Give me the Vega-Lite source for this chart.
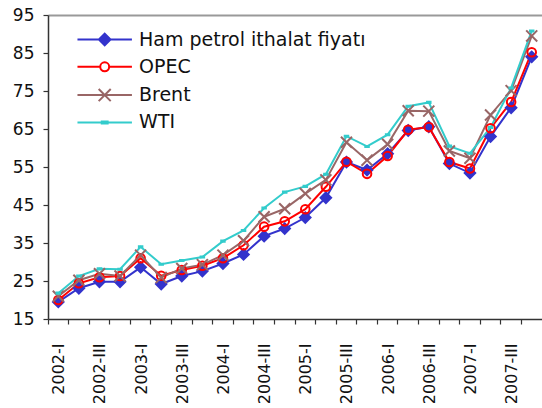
{
  "$schema": "https://vega.github.io/schema/vega-lite/v6.json",
  "width": 494,
  "height": 304,
  "autosize": {"type": "none"},
  "padding": {"left": 48, "top": 15, "right": 0, "bottom": 89},
  "background": "white",
  "config": {
    "view": {"stroke": null},
    "font": "DejaVu Sans",
    "axis": {"title": null, "domainColor": "#333333", "tickColor": "#333333", "domainWidth": 1.5, "tickWidth": 1.2, "labelColor": "#111111", "labelFont": "DejaVu Sans"},
    "legend": {"labelFont": "DejaVu Sans"}
  },
  "data": {
    "values": [
      {"q": "2002-I", "Ham": 19.5, "OPEC": 20.0, "Brent": 21.0, "WTI": 21.8},
      {"q": "2002-II", "Ham": 23.1, "OPEC": 24.4, "Brent": 25.2, "WTI": 26.3},
      {"q": "2002-III", "Ham": 24.8, "OPEC": 26.0, "Brent": 26.9, "WTI": 28.2},
      {"q": "2002-IV", "Ham": 24.8, "OPEC": 26.3, "Brent": 26.3, "WTI": 28.1},
      {"q": "2003-I", "Ham": 28.6, "OPEC": 31.0, "Brent": 31.8, "WTI": 34.0},
      {"q": "2003-II", "Ham": 24.2, "OPEC": 26.4, "Brent": 25.9, "WTI": 29.4},
      {"q": "2003-III", "Ham": 26.3, "OPEC": 27.9, "Brent": 28.3, "WTI": 30.4},
      {"q": "2003-IV", "Ham": 27.6, "OPEC": 29.0, "Brent": 29.3, "WTI": 31.3},
      {"q": "2004-I", "Ham": 29.6, "OPEC": 31.0, "Brent": 31.8, "WTI": 35.5},
      {"q": "2004-II", "Ham": 32.0, "OPEC": 34.4, "Brent": 35.6, "WTI": 38.3},
      {"q": "2004-III", "Ham": 36.8, "OPEC": 39.3, "Brent": 41.9, "WTI": 44.2},
      {"q": "2004-IV", "Ham": 38.8, "OPEC": 40.7, "Brent": 44.0, "WTI": 48.4},
      {"q": "2005-I", "Ham": 41.7, "OPEC": 43.9, "Brent": 48.0, "WTI": 49.9},
      {"q": "2005-II", "Ham": 46.9, "OPEC": 49.8, "Brent": 51.6, "WTI": 53.1},
      {"q": "2005-III", "Ham": 56.3, "OPEC": 56.4, "Brent": 61.5, "WTI": 63.1},
      {"q": "2005-IV", "Ham": 54.2, "OPEC": 53.2, "Brent": 56.8, "WTI": 60.4},
      {"q": "2006-I", "Ham": 58.5, "OPEC": 57.9, "Brent": 61.0, "WTI": 63.5},
      {"q": "2006-II", "Ham": 64.6, "OPEC": 64.8, "Brent": 69.8, "WTI": 71.0},
      {"q": "2006-III", "Ham": 65.6, "OPEC": 65.5, "Brent": 69.7, "WTI": 72.0},
      {"q": "2006-IV", "Ham": 55.9, "OPEC": 56.3, "Brent": 59.2, "WTI": 60.5},
      {"q": "2007-I", "Ham": 53.4, "OPEC": 54.6, "Brent": 57.3, "WTI": 58.6},
      {"q": "2007-II", "Ham": 63.0, "OPEC": 65.2, "Brent": 68.7, "WTI": 65.4},
      {"q": "2007-III", "Ham": 70.6, "OPEC": 72.1, "Brent": 75.1, "WTI": 75.8},
      {"q": "2007-IV", "Ham": 84.0, "OPEC": 85.2, "Brent": 89.5, "WTI": 90.8}
    ]
  },
  "transform": [
    {"fold": ["Ham", "OPEC", "Brent", "WTI"], "as": ["series", "v"]}
  ],
  "encoding": {
    "x": {
      "field": "q", "type": "ordinal", "sort": null,
      "scale": {"type": "band", "paddingInner": 0, "paddingOuter": 0},
      "axis": {
        "grid": false, "bandPosition": 0, "tickSize": 5, "labelAngle": -90, "labelFontSize": 16,
        "labelPadding": 19, "labelOffset": 1, "labelOverlap": false,
        "labelExpr": "indexof(['2002-I','2002-III','2003-I','2003-III','2004-I','2004-III','2005-I','2005-III','2006-I','2006-III','2007-I','2007-III'], datum.value) >= 0 ? datum.label : ''"
      }
    },
    "y": {
      "field": "v", "type": "quantitative",
      "scale": {"domain": [15, 95], "nice": false, "zero": false},
      "axis": {
        "values": [15, 25, 35, 45, 55, 65, 75, 85, 95], "tickSize": 5, "labelFontSize": 17, "labelPadding": 9,
        "grid": true, "gridColor": "#999999", "gridWidth": 2,
        "gridOpacity": {"condition": {"test": "datum.value === 95", "value": 1}, "value": 0}
      }
    },
    "stroke": {
      "field": "series", "type": "nominal",
      "scale": {"domain": ["Ham", "OPEC", "Brent", "WTI"], "range": ["#3333CC", "#FF0000", "#996666", "#33CCCC"]},
      "legend": {
        "orient": "none", "legendX": 29.5, "legendY": 15, "title": null, "padding": 0,
        "labelFontSize": 19, "labelColor": "#111111", "labelOffset": 24.8, "labelLimit": 400,
        "rowPadding": 7.3, "symbolSize": 196, "symbolStrokeWidth": 2, "symbolOffset": 17.7,
        "labelExpr": "datum.value === 'Ham' ? 'Ham petrol ithalat fiyatı' : datum.label",
        "encode": {
          "symbols": {
            "update": {
              "shape": {"signal": "datum.value === 'OPEC' ? 'M-3.89,0H-0.64M0.64,0H3.89M0.64,0A0.64,0.64,0,1,1,-0.64,0A0.64,0.64,0,1,1,0.64,0Z' : datum.value === 'Brent' ? 'M-3.89,0H3.89M-0.86,-0.86L0.86,0.86M-0.86,0.86L0.86,-0.86' : datum.value === 'WTI' ? 'M-3.89,0H3.89M-0.42,-0.14H0.42V0.14H-0.42Z' : 'M-3.89,0H3.89M0,-0.83L0.83,0L0,0.83L-0.83,0Z'"},
              "fill": {"signal": "datum.value === 'OPEC' ? 'transparent' : datum.value === 'Brent' ? '#996666' : datum.value === 'WTI' ? '#33CCCC' : '#3333CC'"},
              "size": {"value": 196},
              "strokeWidth": {"value": 2},
              "opacity": {"value": 1}
            }
          }
        }
      }
    }
  },
  "layer": [
    {
      "mark": {"type": "line", "strokeWidth": 2},
      "encoding": {}
    },
    {
      "transform": [{"filter": "datum.series === 'Ham'"}],
      "mark": {"type": "point", "shape": "diamond", "filled": true, "fill": "#3333CC", "size": 110, "strokeWidth": 2, "opacity": 1},
      "encoding": {}
    },
    {
      "transform": [{"filter": "datum.series === 'OPEC'"}],
      "mark": {"type": "point", "shape": "circle", "filled": false, "size": 74, "strokeWidth": 2, "opacity": 1},
      "encoding": {}
    },
    {
      "transform": [{"filter": "datum.series === 'Brent'"}],
      "mark": {"type": "point", "shape": "M-0.92,-0.92L0.92,0.92M-0.92,0.92L0.92,-0.92", "filled": false, "size": 144, "strokeWidth": 2, "opacity": 1},
      "encoding": {}
    },
    {
      "transform": [{"filter": "datum.series === 'WTI'"}],
      "mark": {"type": "point", "shape": "M-1,-0.4H1V0.4H-1Z", "filled": true, "fill": "#33CCCC", "size": 16, "strokeWidth": 1.5, "opacity": 1},
      "encoding": {}
    }
  ]
}
